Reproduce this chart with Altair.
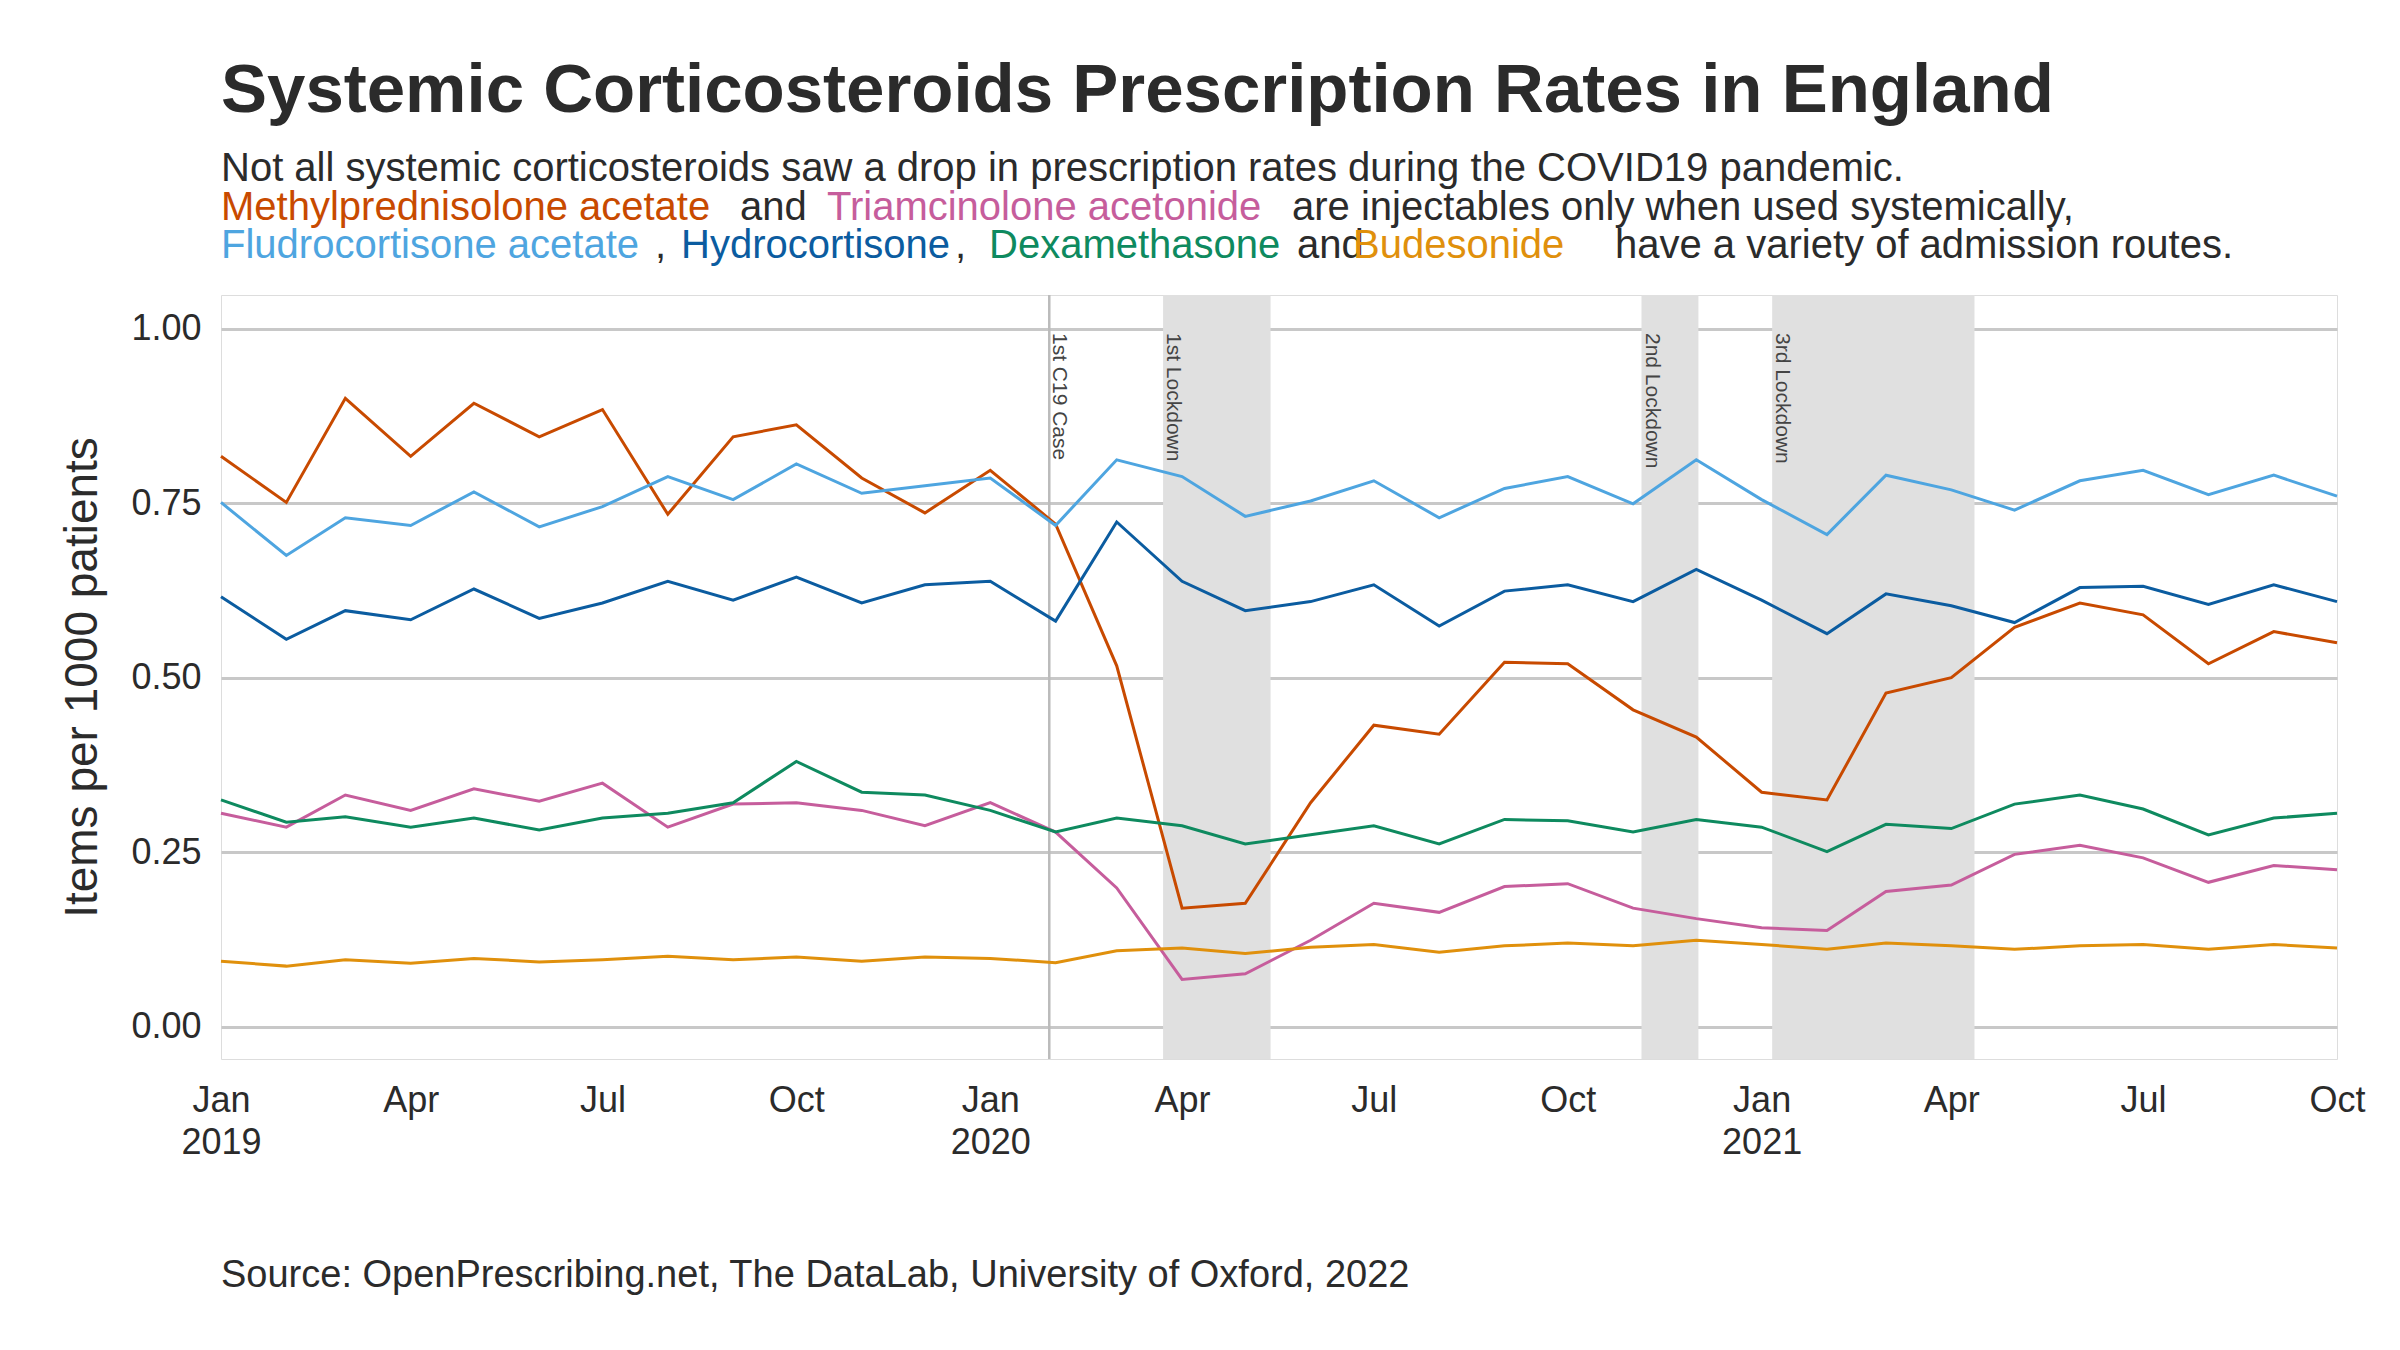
import altair as alt
import pandas as pd

months = [d.strftime("%Y-%m-%d") for d in pd.date_range("2019-01-01", "2021-10-01", freq="MS")]

methyl = [0.817,0.751,0.90,0.817,0.893,0.845,0.884,0.734,0.845,0.862,0.786,0.736,0.797,0.72,0.517,0.170,0.177,0.321,0.432,0.419,0.522,0.52,0.454,0.415,0.336,0.325,0.478,0.50,0.572,0.607,0.59,0.52,0.566,0.55]
fludro = [0.751,0.675,0.729,0.718,0.766,0.716,0.745,0.788,0.755,0.806,0.764,0.775,0.786,0.718,0.812,0.788,0.731,0.753,0.782,0.729,0.771,0.788,0.749,0.812,0.755,0.705,0.79,0.769,0.74,0.782,0.797,0.762,0.79,0.76]
hydro = [0.616,0.555,0.596,0.583,0.627,0.585,0.607,0.638,0.611,0.644,0.607,0.633,0.638,0.581,0.723,0.638,0.596,0.609,0.633,0.574,0.624,0.633,0.609,0.655,0.611,0.563,0.62,0.603,0.579,0.629,0.631,0.605,0.633,0.609]
dexa = [0.325,0.293,0.301,0.286,0.299,0.282,0.299,0.306,0.321,0.38,0.336,0.332,0.31,0.279,0.299,0.288,0.262,0.275,0.288,0.262,0.297,0.295,0.279,0.297,0.286,0.251,0.29,0.284,0.319,0.332,0.312,0.275,0.299,0.306]
triam = [0.306,0.286,0.332,0.31,0.341,0.323,0.349,0.286,0.319,0.321,0.31,0.288,0.321,0.279,0.199,0.068,0.076,0.124,0.177,0.164,0.201,0.205,0.17,0.155,0.142,0.138,0.194,0.203,0.247,0.26,0.242,0.207,0.231,0.225]
budes = [0.094,0.087,0.096,0.091,0.098,0.093,0.096,0.101,0.096,0.1,0.094,0.1,0.098,0.092,0.109,0.113,0.105,0.114,0.118,0.107,0.116,0.12,0.116,0.124,0.118,0.111,0.12,0.116,0.111,0.116,0.118,0.111,0.118,0.113]

names = ["Methylprednisolone acetate","Triamcinolone acetonide","Fludrocortisone acetate","Hydrocortisone","Dexamethasone","Budesonide"]
colors = ["#C84A00","#C65D9C","#4EA5E0","#0B5CA0","#0E8A5F","#E0900C"]
series = [methyl, triam, fludro, hydro, dexa, budes]

rows = []
for n, vals in zip(names, series):
    for m, v in zip(months, vals):
        rows.append({"date": m, "drug": n, "value": v})
df = pd.DataFrame(rows)

shade_start = ["2020-03-23", "2020-11-05", "2021-01-06"]
shade_end = ["2020-05-13", "2020-12-02", "2021-04-12"]
shade_label = ["1st Lockdown", "2nd Lockdown", "3rd Lockdown"]
case_date = ["2020-01-29"]
case_label = ["1st C19 Case"]

FONT = "Liberation Sans"
TXT = "#2b2b2b"
W, H = 2116, 764
xscale = alt.Scale(type="utc", domain=["2019-01-01", "2021-10-01"], nice=False)
yscale = alt.Scale(domain=[-0.046, 1.048], nice=False)

shades = pd.DataFrame({"s": shade_start, "e": shade_end, "l": shade_label})
case = pd.DataFrame({"d": case_date, "l": case_label})

rect = alt.Chart(shades).mark_rect(color="#e0e0e0").encode(
    x=alt.X("s:T", scale=xscale), x2="e:T",
    y=alt.value(0), y2=alt.value(H))
rect_txt = alt.Chart(shades).mark_text(angle=90, align="left", baseline="bottom", font=FONT,
                                       fontSize=21, color="#444", dx=2).encode(
    x=alt.X("s:T", scale=xscale), y=alt.value(36), text="l:N")
vline = alt.Chart(case).mark_rule(color="#bbbbbb", strokeWidth=2.5).encode(
    x=alt.X("d:T", scale=xscale), y=alt.value(0), y2=alt.value(H))
case_txt = alt.Chart(case).mark_text(angle=90, align="left", baseline="bottom", font=FONT,
                                     fontSize=21, color="#444", dx=2).encode(
    x=alt.X("d:T", scale=xscale), y=alt.value(36), text="l:N")

lines = alt.Chart(df).mark_line(strokeWidth=3).encode(
    x=alt.X("date:T", scale=xscale, title=None,
            axis=alt.Axis(values=[m for i, m in enumerate(months) if i % 3 == 0], grid=False, domain=False,
                          ticks=False, labelFontSize=36, labelFont=FONT, labelColor=TXT, labelPadding=24,
                          labelLineHeight=42, labelFlush=False, labelAlign="center",
                          labelExpr="utcmonth(datum.value)==0 ? [utcFormat(datum.value,'%b'), utcFormat(datum.value,'%Y')] : utcFormat(datum.value,'%b')")),
    y=alt.Y("value:Q", scale=yscale, title="Items per 1000 patients",
            axis=alt.Axis(values=[0, 0.25, 0.5, 0.75, 1.0], format=".2f", domain=False, ticks=False,
                          gridColor="#c8c8c8", gridWidth=3, labelFontSize=36, labelFont=FONT,
                          labelColor=TXT, labelPadding=20, titleFontSize=46, titleFont=FONT,
                          titleFontWeight="normal", titleColor=TXT, titlePadding=24)),
    color=alt.Color("drug:N", scale=alt.Scale(domain=names, range=colors), legend=None),
)

def txt(text, x, y, size=40, color=TXT, weight="normal"):
    return alt.Chart(pd.DataFrame({"t": [text]})).mark_text(
        align="left", baseline="alphabetic", font=FONT, fontSize=size, color=color,
        fontWeight=weight).encode(x=alt.value(x), y=alt.value(y), text="t:N")

texts = [
    txt("Systemic Corticosteroids Prescription Rates in England", 0, -183, size=69, weight="bold"),
    txt("Not all systemic corticosteroids saw a drop in prescription rates during the COVID19 pandemic.", 0, -114),
    txt("Methylprednisolone acetate", 0, -75, color=colors[0]),
    txt("and", 519, -75),
    txt("Triamcinolone acetonide", 606, -75, color=colors[1]),
    txt("are injectables only when used systemically,", 1071, -75),
    txt("Fludrocortisone acetate", 0, -37, color=colors[2]),
    txt(",", 434, -37),
    txt("Hydrocortisone", 460, -37, color=colors[3]),
    txt(",", 734, -37),
    txt("Dexamethasone", 768, -37, color=colors[4]),
    txt("and", 1076, -37),
    txt("Budesonide", 1132, -37, color=colors[5]),
    txt("have a variety of admission routes.", 1394, -37),
    txt("Source: OpenPrescribing.net, The DataLab, University of Oxford, 2022", 0, 992, size=38),
]

chart = alt.layer(rect, vline, lines, rect_txt, case_txt, *texts).properties(
    width=W, height=H,
    autosize=alt.AutoSizeParams(type="none"),
    padding={"left": 213, "top": 287, "right": 2384 - 213 - W, "bottom": 1334 - 287 - H},
).configure_view(stroke=None).configure(background="white")

chart.save("out.html", embed_options={"renderer": "svg", "actions": False})
